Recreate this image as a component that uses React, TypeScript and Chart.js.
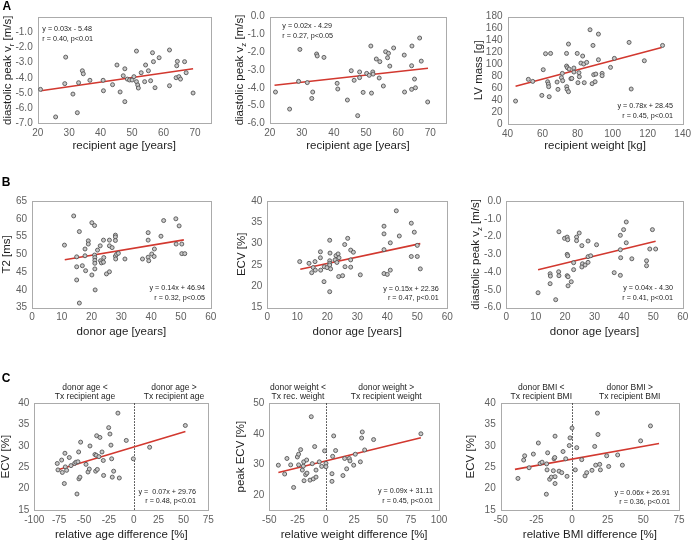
import React, { useEffect, useRef } from "react";
import { Chart, registerables } from "chart.js";
Chart.register(...registerables);

const FONT = '"Liberation Sans", Arial, Helvetica, sans-serif';

// ---------- data ----------
// A1: recipient age vs diastolic peak vr
const A1_AGE = [20.9, 25.7, 28.9, 28.6, 31.2, 32.6, 33.0, 34.2, 34.5, 36.6, 40.8, 40.9, 43.8, 45.2, 46.2, 47.2, 47.7, 47.7, 48.5, 49.2, 50.0, 50.6, 51.4, 51.4, 51.8, 52.0, 52.9, 54.0, 54.3, 55.2, 55.9, 56.5, 56.8, 57.3, 58.6, 61.9, 61.9, 64.4, 64.2, 64.0, 64.9, 65.4, 66.7, 67.2, 69.4];
const A1_VR = [-4.76, -6.58, -2.63, -4.38, -5.07, -6.30, -4.32, -3.53, -3.73, -4.16, -4.16, -4.85, -4.45, -3.15, -4.93, -3.86, -3.40, -5.57, -4.08, -4.14, -4.14, -3.92, -2.23, -4.25, -4.47, -4.67, -3.66, -4.25, -3.15, -3.53, -4.19, -2.34, -2.93, -4.65, -2.67, -2.16, -4.52, -2.91, -3.20, -3.99, -3.92, -4.08, -2.93, -3.66, -5.00];
const A1_FIT = [0.03, -5.48];
const A1_FIT_RANGE = [21, 69.4];

// A2: recipient age vs diastolic peak vz
const A2_AGE = [21.8, 26.2, 29.0, 29.4, 31.7, 33.1, 33.4, 34.6, 34.8, 36.9, 41.0, 41.2, 44.2, 45.4, 46.3, 47.4, 48.0, 48.0, 49.1, 50.2, 51.0, 51.5, 51.7, 52.1, 52.2, 53.2, 54.3, 54.1, 55.4, 56.1, 56.7, 57.0, 57.4, 58.6, 61.9, 62.0, 64.2, 64.3, 64.2, 65.1, 65.4, 66.7, 67.2, 69.2];
const A2_VZ = [-4.24, -5.20, -3.64, -1.84, -3.71, -4.60, -4.24, -2.10, -2.21, -2.29, -3.75, -4.07, -4.69, -3.04, -3.58, -5.57, -3.11, -3.43, -4.26, -3.19, -3.30, -1.65, -4.30, -3.11, -3.23, -2.38, -2.53, -3.45, -3.90, -1.97, -2.31, -2.06, -2.78, -1.76, -2.16, -4.24, -2.76, -1.65, -4.09, -3.51, -4.00, -1.20, -2.50, -4.80];
const A2_FIT = [0.02, -4.29];
const A2_FIT_RANGE = [21.5, 69.3];

// A3: recipient weight vs LV mass
const A3_WEIGHT = [44.6, 51.9, 54.4, 59.6, 60.4, 61.7, 64.6, 62.9, 63.3, 63.5, 63.8, 68.3, 68.8, 70.8, 71.3, 71.5, 73.7, 73.7, 74.2, 73.8, 74.0, 74.8, 74.8, 75.2, 76.2, 76.7, 77.9, 77.9, 79.8, 80.2, 80.8, 81.0, 81.9, 82.9, 83.5, 83.8, 85.2, 87.1, 88.3, 88.8, 89.2, 90.0, 90.4, 91.9, 91.9, 94.0, 94.0, 98.8, 101.0, 109.4, 110.6, 118.1, 128.5];
const A3_LVMASS = [38.5, 74.9, 71.5, 48.0, 91.1, 117.9, 118.4, 70.9, 67.0, 62.6, 45.8, 70.4, 58.1, 77.7, 84.9, 72.6, 118.4, 97.2, 94.4, 62.6, 58.1, 54.2, 134.1, 92.2, 76.0, 76.5, 87.2, 93.9, 118.4, 69.3, 86.0, 79.3, 102.2, 114.0, 100.6, 69.3, 103.4, 158.1, 67.6, 131.8, 82.7, 70.9, 83.8, 107.8, 150.8, 84.9, 81.0, 95.0, 110.1, 136.9, 58.7, 106.1, 131.8];
const A3_FIT = [0.78, 28.45];
const A3_FIT_RANGE = [44.6, 128];

// B1: donor age vs T2
const B1_AGE = [10.9, 14.0, 15.0, 15.0, 15.0, 15.9, 15.9, 16.9, 17.8, 17.8, 18.0, 18.9, 18.9, 20.1, 20.1, 21.0, 21.0, 21.1, 21.1, 21.1, 21.1, 21.2, 22.0, 22.9, 23.0, 23.3, 24.0, 24.0, 24.1, 25.0, 26.0, 26.0, 26.0, 26.9, 28.0, 28.0, 28.0, 28.0, 28.1, 28.4, 29.0, 31.2, 37.1, 39.0, 39.0, 39.0, 39.2, 40.2, 41.0, 41.1, 43.3, 44.2, 48.3, 48.4, 49.4, 50.3, 50.3, 51.3];
const B1_T2 = [52.6, 60.8, 49.3, 46.5, 42.8, 56.4, 36.3, 46.8, 51.5, 49.6, 45.4, 53.8, 52.9, 58.9, 44.2, 58.1, 49.8, 49.1, 48.3, 47.5, 45.9, 40.0, 51.2, 52.4, 48.2, 47.6, 54.0, 47.8, 49.1, 44.5, 54.0, 52.4, 45.1, 51.9, 55.4, 54.9, 53.9, 49.5, 48.7, 50.0, 50.3, 48.7, 48.7, 56.1, 54.0, 49.2, 48.2, 50.1, 49.4, 51.5, 55.1, 59.5, 60.0, 52.9, 58.0, 52.9, 50.2, 50.2];
const B1_FIT = [0.14, 46.94];
const B1_FIT_RANGE = [11, 51];

// B2: donor age vs ECV
const B2_AGE = [10.8, 13.9, 14.8, 15.3, 15.9, 16.0, 17.7, 17.7, 17.8, 18.9, 19.0, 19.9, 20.8, 20.9, 20.8, 20.8, 20.8, 20.8, 21.1, 22.6, 22.9, 23.2, 23.6, 23.9, 23.8, 25.1, 25.8, 25.9, 26.8, 27.8, 27.8, 27.8, 28.7, 31.0, 38.9, 38.9, 38.9, 38.9, 40.0, 41.0, 41.0, 43.0, 44.0, 48.0, 48.0, 49.0, 50.0, 50.0, 51.0];
const B2_ECV = [25.8, 25.4, 23.2, 24.4, 25.8, 23.8, 28.1, 26.7, 23.8, 21.1, 24.6, 24.4, 30.8, 27.8, 26.0, 25.4, 25.0, 18.75, 24.1, 26.2, 27.2, 25.6, 27.6, 26.7, 22.3, 22.5, 29.8, 24.6, 31.25, 28.5, 26.2, 24.5, 28.0, 22.7, 34.1, 32.3, 28.6, 23.0, 22.8, 30.2, 23.8, 37.7, 31.8, 34.8, 27.0, 32.7, 29.6, 27.0, 24.1];
const B2_FIT = [0.15, 22.36];
const B2_FIT_RANGE = [11, 51];

// B3: donor age vs diastolic peak vz
const B3_AGE = [10.8, 14.9, 15.0, 14.9, 16.8, 17.9, 17.8, 17.9, 19.8, 20.7, 20.9, 20.7, 20.9, 20.7, 21.0, 21.0, 22.1, 22.9, 22.9, 23.9, 23.9, 24.8, 25.7, 25.9, 25.7, 26.8, 27.8, 27.8, 27.8, 28.7, 30.7, 36.7, 38.8, 38.8, 38.9, 38.8, 39.9, 40.8, 40.8, 42.7, 47.7, 47.7, 49.7, 48.8, 50.8];
const B3_VZ = [-5.16, -4.09, -4.22, -4.65, -5.55, -1.73, -3.98, -4.20, -2.10, -2.03, -2.18, -3.00, -3.08, -4.20, -4.26, -4.77, -4.54, -3.47, -3.86, -2.03, -2.23, -1.80, -2.51, -3.53, -3.71, -3.60, -2.25, -3.13, -3.45, -3.08, -2.46, -4.03, -1.93, -2.74, -3.19, -4.18, -1.61, -1.18, -2.35, -3.25, -3.36, -3.64, -1.61, -2.70, -2.70];
const B3_FIT = [0.04, -4.30];
const B3_FIT_RANGE = [10.8, 50.8];

// C1: relative age difference vs ECV
const C1_AGEDIFF = [-76.9, -76.2, -72.5, -71.8, -69.8, -69.2, -68.8, -67.5, -64.8, -63.1, -59.4, -58.1, -57.1, -56.1, -55.4, -55.1, -54.1, -53.4, -48.0, -46.0, -44.7, -44.0, -39.0, -38.3, -37.6, -37.3, -36.6, -35.0, -34.0, -31.9, -30.6, -30.3, -25.2, -23.9, -22.9, -22.2, -21.6, -20.2, -15.9, -14.5, -7.5, -0.4, 16.0, 51.9];
const C1_ECV = [25.9, 24.4, 26.7, 23.8, 21.2, 28.3, 25.1, 24.3, 27.3, 25.4, 25.9, 26.2, 18.75, 26.3, 28.6, 22.3, 22.7, 30.9, 25.7, 23.9, 24.6, 30.0, 28.0, 24.1, 27.8, 32.4, 24.5, 27.5, 32.0, 28.6, 26.6, 23.1, 34.3, 32.8, 30.2, 27.0, 22.7, 24.1, 37.7, 22.5, 31.3, 27.0, 29.7, 34.8];
const C1_FIT = [0.07, 29.76];
const C1_FIT_RANGE = [-77, 52];

// C2: relative weight difference vs peak ECV
const C2_WEIGHTDIFF = [-42.0, -36.4, -34.4, -31.1, -28.5, -25.2, -24.1, -24.1, -22.3, -20.8, -19.9, -19.6, -19.3, -17.9, -17.0, -16.7, -14.0, -12.9, -12.0, -11.1, -9.9, -8.7, -8.7, -5.8, -3.7, -1.1, 0.1, 0.1, 5.4, 5.4, 6.0, 6.9, 8.6, 15.1, 16.6, 18.4, 20.7, 21.3, 24.6, 26.0, 30.5, 31.6, 32.2, 34.3, 42.2, 84.0];
const C2_PEAKECV = [29.7, 26.8, 31.9, 29.8, 22.4, 32.4, 33.3, 29.8, 34.8, 28.1, 29.4, 30.8, 24.6, 26.6, 31.4, 27.1, 24.8, 45.6, 30.2, 25.2, 35.8, 25.8, 28.1, 30.8, 29.3, 34.4, 30.3, 29.2, 26.9, 24.4, 32.6, 39.3, 34.5, 26.3, 31.9, 28.5, 31.9, 31.1, 29.7, 33.3, 30.8, 38.6, 40.6, 34.7, 38.1, 40.0];
const C2_FIT = [0.09, 31.11];
const C2_FIT_RANGE = [-42, 84];

// C3: relative BMI difference vs ECV
const C3_BMIDIFF = [-37.9, -33.9, -33.2, -30.1, -27.1, -23.6, -22.4, -21.0, -18.0, -17.8, -17.5, -17.1, -15.7, -14.5, -13.1, -12.6, -12.1, -11.9, -11.9, -11.9, -9.1, -7.2, -6.3, -4.4, -3.5, -1.9, -1.4, 0.0, 2.3, 3.3, 6.8, 9.1, 10.3, 14.0, 15.9, 16.6, 17.8, 18.2, 19.4, 19.9, 24.3, 25.7, 32.0, 35.3, 48.1, 55.0];
const C3_ECV = [22.4, 26.7, 27.7, 24.9, 28.1, 30.7, 25.9, 26.2, 18.7, 25.8, 24.4, 28.4, 22.2, 22.7, 24.2, 27.0, 27.3, 32.3, 22.8, 21.2, 24.1, 23.75, 28.7, 27.0, 22.9, 30.1, 31.9, 34.2, 24.4, 29.6, 26.8, 23.0, 23.75, 24.3, 29.9, 25.5, 37.7, 32.7, 25.7, 24.4, 27.7, 25.2, 27.9, 25.5, 31.2, 34.7];
const C3_FIT = [0.06, 26.91];
const C3_FIT_RANGE = [-40, 61];

// tick values
const AGE_TICKS_A = [20, 30, 40, 50, 60, 70];
const WEIGHT_TICKS = [40, 60, 80, 100, 120, 140];
const LV_TICKS = [0, 20, 40, 60, 80, 100, 120, 140, 160, 180];
const VR_TICKS = [-7, -6, -5, -4, -3, -2, -1];
const VZ_TICKS = [-6, -5, -4, -3, -2, -1, 0];
const DONOR_AGE_TICKS = [0, 10, 20, 30, 40, 50, 60];
const T2_TICKS = [35, 40, 45, 50, 55, 60, 65];
const ECV_TICKS = [15, 20, 25, 30, 35, 40];
const AGEDIFF_TICKS = [-100, -75, -50, -25, 0, 25, 50, 75];
const WEIGHTDIFF_TICKS = [-50, -25, 0, 25, 50, 75, 100];
const PEAKECV_TICKS = [20, 30, 40, 50];
const BMIDIFF_TICKS = [-50, -25, 0, 25, 50, 75];

// ---------- panel layout ----------
type Seg = { t: string; sub?: boolean };
type Panel = {
  key: string;
  cv: number[]; // canvas x, y, w, h (page px)
  box: number[]; // plot box l, t, r, b (page px)
  xs: number[];
  ys: number[];
  xRange: number[];
  yRange: number[];
  xTicks: number[];
  yTicks: number[];
  yDec: number;
  fit: number[];
  fitRange: number[];
  eq: string[];
  eqAlign: "left" | "right";
  eqX: number;
  eqY: number[];
  xTitle: string;
  xTitleY: number;
  yTitle: Seg[];
  yTitleX: number;
  zero?: boolean;
  headerY?: number[];
  headers?: { x: number; lines: string[] }[];
  letter?: { t: string; x: number; y: number };
};

const VR_TITLE: Seg[] = [{ t: "diastolic peak v" }, { t: "r", sub: true }, { t: " [m/s]" }];
const VZ_TITLE: Seg[] = [{ t: "diastolic peak v" }, { t: "z", sub: true }, { t: " [m/s]" }];

const PANELS: Panel[] = [
  {
    key: "A1", cv: [0, 0, 230, 170], box: [37.7, 17.3, 210.7, 123.3],
    xs: A1_AGE, ys: A1_VR, xRange: [20, 75], yRange: [-7, 0], xTicks: AGE_TICKS_A, yTicks: VR_TICKS, yDec: 1,
    fit: A1_FIT, fitRange: A1_FIT_RANGE,
    eq: ["y = 0.03x - 5.48", "r = 0.40, p<0.01"], eqAlign: "left", eqX: 42.3, eqY: [29, 39],
    xTitle: "recipient age [years]", xTitleY: 146, yTitle: VR_TITLE, yTitleX: 8.3,
    letter: { t: "A", x: 2.5, y: 10.3 },
  },
  {
    key: "A2", cv: [230, 0, 230, 170], box: [269.7, 16.7, 446.3, 123.3],
    xs: A2_AGE, ys: A2_VZ, xRange: [20, 75], yRange: [-6, 0], xTicks: AGE_TICKS_A, yTicks: VZ_TICKS, yDec: 1,
    fit: A2_FIT, fitRange: A2_FIT_RANGE,
    eq: ["y = 0.02x - 4.29", "r = 0.27, p<0.05"], eqAlign: "left", eqX: 282.3, eqY: [25.7, 35.7],
    xTitle: "recipient age [years]", xTitleY: 145.7, yTitle: VZ_TITLE, yTitleX: 240.3,
  },
  {
    key: "A3", cv: [460, 0, 231, 170], box: [507.5, 16.7, 682.7, 124],
    xs: A3_WEIGHT, ys: A3_LVMASS, xRange: [40, 140], yRange: [0, 180], xTicks: WEIGHT_TICKS, yTicks: LV_TICKS, yDec: 0,
    fit: A3_FIT, fitRange: A3_FIT_RANGE,
    eq: ["y = 0.78x + 28.45", "r = 0.45, p<0.01"], eqAlign: "right", eqX: 673, eqY: [106, 116],
    xTitle: "recipient weight [kg]", xTitleY: 145.7, yTitle: [{ t: "LV mass [g]" }], yTitleX: 479,
  },
  {
    key: "B1", cv: [0, 170, 230, 185], box: [32, 201, 210.7, 307.7],
    xs: B1_AGE, ys: B1_T2, xRange: [0, 60], yRange: [35, 65], xTicks: DONOR_AGE_TICKS, yTicks: T2_TICKS, yDec: 0,
    fit: B1_FIT, fitRange: B1_FIT_RANGE,
    eq: ["y = 0.14x + 46.94", "r = 0.32, p<0.05"], eqAlign: "right", eqX: 205, eqY: [288.3, 297.7],
    xTitle: "donor age [years]", xTitleY: 331.7, yTitle: [{ t: "T2 [ms]" }], yTitleX: 6.7,
    letter: { t: "B", x: 1.7, y: 185.7 },
  },
  {
    key: "B2", cv: [230, 170, 230, 185], box: [267.3, 201, 447.3, 307.7],
    xs: B2_AGE, ys: B2_ECV, xRange: [0, 60], yRange: [15, 40], xTicks: DONOR_AGE_TICKS, yTicks: ECV_TICKS, yDec: 0,
    fit: B2_FIT, fitRange: B2_FIT_RANGE,
    eq: ["y = 0.15x + 22.36", "r = 0.47, p<0.01"], eqAlign: "right", eqX: 438.7, eqY: [289, 298.3],
    xTitle: "donor age [years]", xTitleY: 331.7, yTitle: [{ t: "ECV [%]" }], yTitleX: 242,
  },
  {
    key: "B3", cv: [460, 170, 231, 185], box: [506.3, 201, 682.7, 307.7],
    xs: B3_AGE, ys: B3_VZ, xRange: [0, 60], yRange: [-6, 0], xTicks: DONOR_AGE_TICKS, yTicks: VZ_TICKS, yDec: 1,
    fit: B3_FIT, fitRange: B3_FIT_RANGE,
    eq: ["y = 0.04x - 4.30", "r = 0.41, p<0.01"], eqAlign: "right", eqX: 673, eqY: [288.3, 297.7],
    xTitle: "donor age [years]", xTitleY: 331.7, yTitle: VZ_TITLE, yTitleX: 476.3,
  },
  {
    key: "C1", cv: [0, 355, 230, 186], box: [34.3, 403.3, 208.3, 510],
    xs: C1_AGEDIFF, ys: C1_ECV, xRange: [-100, 75], yRange: [15, 40], xTicks: AGEDIFF_TICKS, yTicks: ECV_TICKS, yDec: 0,
    fit: C1_FIT, fitRange: C1_FIT_RANGE,
    eq: ["y =  0.07x + 29.76", "r = 0.48, p<0.01"], eqAlign: "right", eqX: 196, eqY: [491.7, 501],
    xTitle: "relative age difference [%]", xTitleY: 535, yTitle: [{ t: "ECV [%]" }], yTitleX: 5.7,
    zero: true, headerY: [387.3, 396.7],
    headers: [
      { x: 85, lines: ["donor age <", "Tx recipient age"] },
      { x: 174, lines: ["donor age >", "Tx recipient age"] },
    ],
    letter: { t: "C", x: 1.7, y: 382.3 },
  },
  {
    key: "C2", cv: [230, 355, 230, 186], box: [269.3, 403.3, 439, 510],
    xs: C2_WEIGHTDIFF, ys: C2_PEAKECV, xRange: [-50, 100], yRange: [15, 50], xTicks: WEIGHTDIFF_TICKS, yTicks: PEAKECV_TICKS, yDec: 0,
    fit: C2_FIT, fitRange: C2_FIT_RANGE,
    eq: ["y = 0.09x + 31.11", "r = 0.45, p<0.01"], eqAlign: "right", eqX: 433, eqY: [491, 500.7],
    xTitle: "relative weight difference [%]", xTitleY: 535, yTitle: [{ t: "peak ECV [%]" }], yTitleX: 241.3,
    zero: true, headerY: [387.3, 396.7],
    headers: [
      { x: 298, lines: ["donor weight <", "Tx rec. weight"] },
      { x: 386.3, lines: ["donor weight >", "Tx recipient weight"] },
    ],
  },
  {
    key: "C3", cv: [460, 355, 231, 186], box: [500.7, 403.3, 679, 510],
    xs: C3_BMIDIFF, ys: C3_ECV, xRange: [-50, 75], yRange: [15, 40], xTicks: BMIDIFF_TICKS, yTicks: ECV_TICKS, yDec: 0,
    fit: C3_FIT, fitRange: C3_FIT_RANGE,
    eq: ["y = 0.06x + 26.91", "r = 0.36, p<0.01"], eqAlign: "right", eqX: 670, eqY: [493, 502.3],
    xTitle: "relative BMI difference [%]", xTitleY: 535, yTitle: [{ t: "ECV [%]" }], yTitleX: 471.3,
    zero: true, headerY: [387.3, 396.7],
    headers: [
      { x: 541.3, lines: ["donor BMI <", "Tx recipient BMI"] },
      { x: 629.7, lines: ["donor BMI >", "Tx recipient BMI"] },
    ],
  },
];

function makeDecor(p: Panel) {
  const ox = p.cv[0];
  const oy = p.cv[1];
  return {
    id: "decor" + p.key,
    beforeDatasetsDraw(chart: any) {
      const { ctx, chartArea: a, scales } = chart;
      ctx.save();
      ctx.strokeStyle = "#ababab";
      ctx.lineWidth = 1;
      ctx.strokeRect(
        Math.round(a.left) + 0.5,
        Math.round(a.top) + 0.5,
        Math.round(a.right) - Math.round(a.left),
        Math.round(a.bottom) - Math.round(a.top)
      );
      if (p.zero) {
        const x = Math.round(scales.x.getPixelForValue(0)) + 0.5;
        ctx.strokeStyle = "#333333";
        ctx.setLineDash([1.5, 1.5]);
        ctx.beginPath();
        ctx.moveTo(x, a.top);
        ctx.lineTo(x, a.bottom);
        ctx.stroke();
      }
      ctx.restore();
    },
    afterDraw(chart: any) {
      const { ctx, chartArea: a } = chart;
      ctx.save();
      ctx.fillStyle = "#1e1e1e";
      ctx.textBaseline = "middle";
      // regression annotation
      ctx.font = `7.2px ${FONT}`;
      ctx.textAlign = p.eqAlign;
      p.eq.forEach((s, i) => ctx.fillText(s, p.eqX - ox, p.eqY[i] - oy));
      // headers
      if (p.headers && p.headerY) {
        ctx.font = `8.5px ${FONT}`;
        ctx.textAlign = "center";
        p.headers.forEach((h) =>
          h.lines.forEach((ln, i) => ctx.fillText(ln, h.x - ox, p.headerY![i] - oy))
        );
      }
      // x title
      ctx.font = `11.5px ${FONT}`;
      ctx.textAlign = "center";
      ctx.fillText(p.xTitle, (a.left + a.right) / 2, p.xTitleY - oy);
      // y title with optional subscript
      const big = `11.5px ${FONT}`;
      const small = `8px ${FONT}`;
      let total = 0;
      const widths = p.yTitle.map((s) => {
        ctx.font = s.sub ? small : big;
        const w = ctx.measureText(s.t).width;
        total += w;
        return w;
      });
      ctx.save();
      ctx.translate(p.yTitleX - ox, (a.top + a.bottom) / 2);
      ctx.rotate(-Math.PI / 2);
      ctx.textAlign = "left";
      let x = -total / 2;
      p.yTitle.forEach((s, i) => {
        ctx.font = s.sub ? small : big;
        ctx.fillText(s.t, x, s.sub ? 3 : 0);
        x += widths[i];
      });
      ctx.restore();
      // panel letter
      if (p.letter) {
        ctx.font = `bold 12px ${FONT}`;
        ctx.textAlign = "left";
        ctx.textBaseline = "alphabetic";
        ctx.fillStyle = "#000";
        ctx.fillText(p.letter.t, p.letter.x - ox, p.letter.y - oy);
      }
      ctx.restore();
    },
  };
}

function buildConfig(p: Panel): any {
  const [cx, cy, cw, ch] = p.cv;
  const [bl, bt, br, bb] = p.box;
  const pts = p.xs.map((x, i) => ({ x, y: p.ys[i] }));
  const fitPts = p.fitRange.map((x) => ({ x, y: p.fit[0] * x + p.fit[1] }));
  const tickFont = { size: 10, family: FONT };
  const zeroPad = (s: any) => {
    s.paddingLeft = 0;
    s.paddingRight = 0;
    s.paddingTop = 0;
    s.paddingBottom = 0;
  };
  return {
    type: "scatter",
    data: {
      datasets: [
        {
          type: "line",
          data: fitPts,
          borderColor: "#d2382f",
          borderWidth: 1.6,
          pointRadius: 0,
          fill: false,
          tension: 0,
          order: 2,
        },
        {
          type: "scatter",
          data: pts,
          pointRadius: 2,
          pointBorderWidth: 0.9,
          pointBackgroundColor: "#c8c8c8",
          pointBorderColor: "#555555",
          order: 1,
        },
      ],
    },
    options: {
      responsive: false,
      animation: false,
      events: [],
      layout: { padding: { left: 0, top: bt - cy, right: cx + cw - br, bottom: 0 } },
      plugins: { legend: { display: false }, tooltip: { enabled: false }, title: { display: false } },
      scales: {
        x: {
          type: "linear",
          min: p.xRange[0],
          max: p.xRange[1],
          grid: { display: false, drawTicks: false },
          border: { display: false },
          ticks: {
            color: "#606060",
            font: tickFont,
            padding: 4,
            autoSkip: false,
            maxRotation: 0,
            callback: (v: any) => String(Number(v)),
          },
          afterBuildTicks: (s: any) => {
            s.ticks = p.xTicks.map((v) => ({ value: v }));
          },
          afterFit: (s: any) => {
            s.height = cy + ch - bb;
            zeroPad(s);
          },
        },
        y: {
          type: "linear",
          min: p.yRange[0],
          max: p.yRange[1],
          grid: { display: false, drawTicks: false },
          border: { display: false },
          ticks: {
            color: "#606060",
            font: tickFont,
            padding: 5,
            autoSkip: false,
            callback: (v: any) => Number(v).toFixed(p.yDec),
          },
          afterBuildTicks: (s: any) => {
            s.ticks = p.yTicks.map((v) => ({ value: v }));
          },
          afterFit: (s: any) => {
            s.width = bl - cx;
            zeroPad(s);
          },
        },
      },
    },
    plugins: [makeDecor(p)],
  };
}

function PanelChart({ p }: { p: Panel }) {
  const ref = useRef<HTMLCanvasElement>(null);
  useEffect(() => {
    const canvas = ref.current;
    if (!canvas) return;
    const chart = new Chart(canvas, buildConfig(p));
    return () => chart.destroy();
  }, [p]);
  return (
    <canvas
      ref={ref}
      width={p.cv[2]}
      height={p.cv[3]}
      style={{ position: "absolute", left: p.cv[0], top: p.cv[1], width: p.cv[2], height: p.cv[3] }}
    />
  );
}

export default function App() {
  return (
    <div style={{ position: "absolute", left: 0, top: 0, width: 691, height: 541, background: "#fff", overflow: "hidden" }}>
      {PANELS.map((p) => (
        <PanelChart key={p.key} p={p} />
      ))}
    </div>
  );
}
